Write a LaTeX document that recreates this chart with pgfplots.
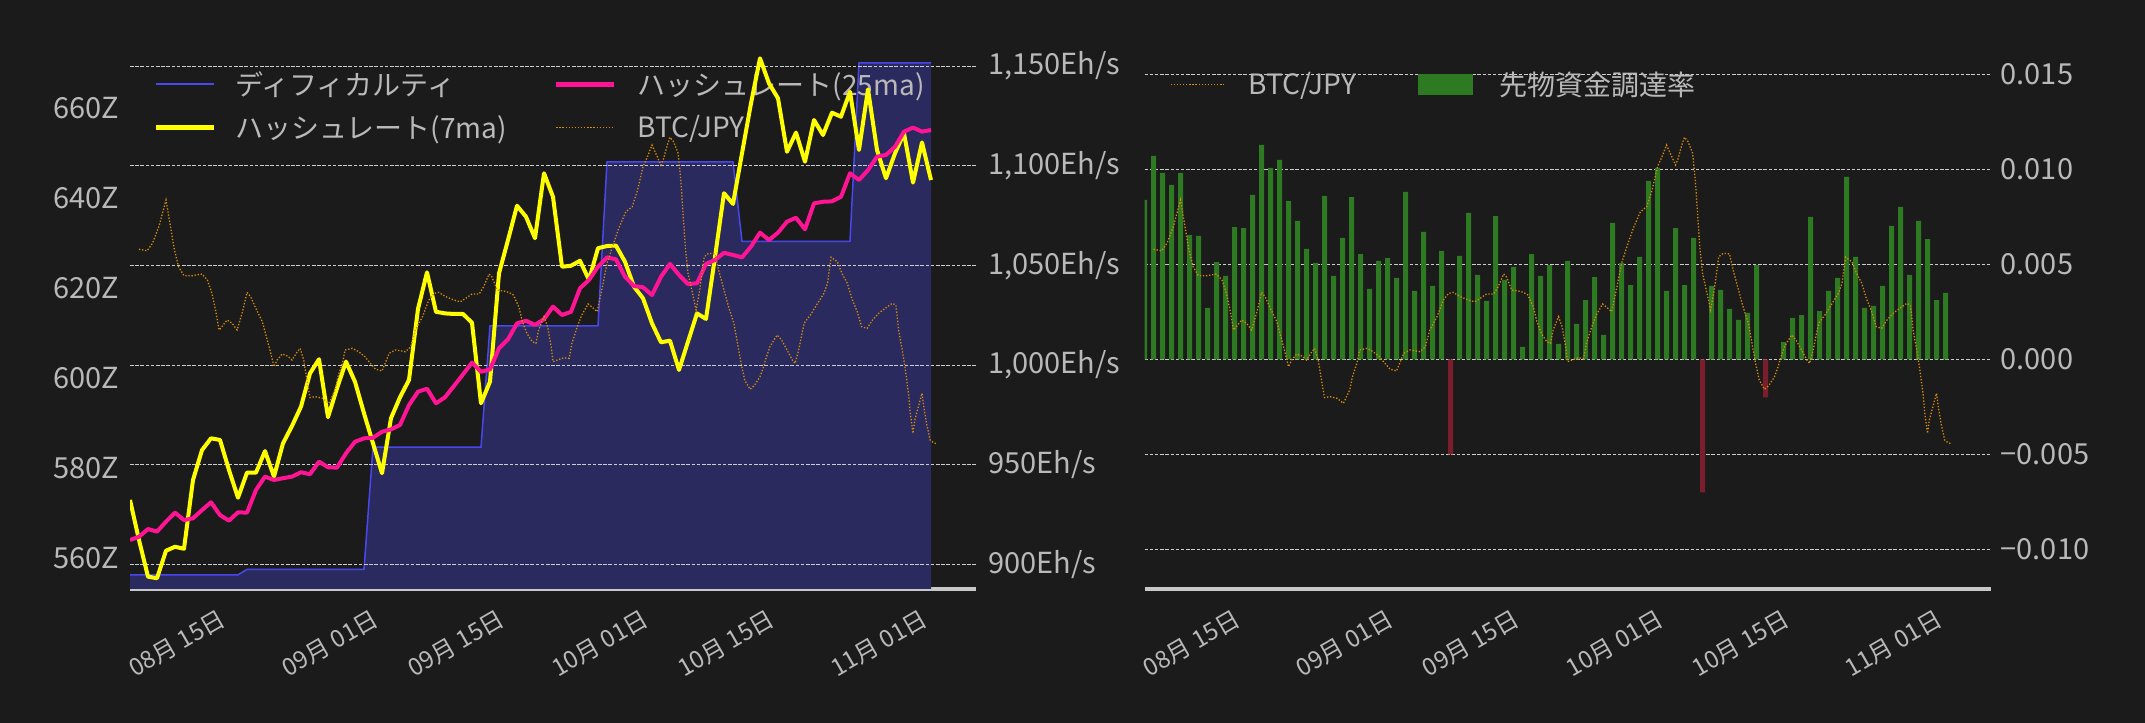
\documentclass[border=0pt]{standalone}
\usepackage{fontspec}
\setmainfont{Noto Sans CJK JP}
\usepackage{pgfplots}
\usepackage{pgfplotstable}
\pgfplotsset{compat=1.18}

\definecolor{bg}{RGB}{27,27,27}
\definecolor{lbl}{RGB}{185,185,185}
\definecolor{gridc}{RGB}{205,205,205}
\definecolor{spine}{RGB}{200,200,200}
\definecolor{diffline}{RGB}{72,72,238}
\definecolor{difffill}{RGB}{42,42,94}
\definecolor{hashy}{RGB}{255,255,0}
\definecolor{hashm}{RGB}{255,20,147}
\definecolor{btc}{RGB}{215,140,10}
\definecolor{fundg}{RGB}{46,122,34}
\definecolor{fundr}{RGB}{122,30,45}

\newcommand{\ytickfont}{\fontsize{29bp}{34bp}\selectfont}
\newcommand{\xtickfont}{\fontsize{24bp}{28bp}\selectfont}
\newcommand{\legfont}{\fontsize{28bp}{33bp}\selectfont}

% difficulty (Z)
\pgfplotstableread{
d v
0 556.2
12 556.2
13 557.4
26 557.4
27 584.6
39 584.6
40 611.6
52 611.6
53 648.1
67 648.1
68 630.4
80 630.4
81 670.1
89 670.1
}\diffdata

% hashrate 7ma (Eh/s)
\pgfplotstableread{
d v
0 932.3
1 912.2
2 893.8
3 893.0
4 906.8
5 908.8
6 907.8
7 942.3
8 957.3
9 963.2
10 962.4
11 947.3
12 933.4
13 946.0
14 946.0
15 956.8
16 944.0
17 960.7
18 969.4
19 979.1
20 995.8
21 1002.9
22 973.8
23 988.3
24 1001.7
25 991.6
26 975.8
27 960.7
28 945.7
29 973.3
30 983.8
31 992.5
32 1028.1
33 1046.5
34 1026.7
35 1025.9
36 1025.6
37 1025.6
38 1021.2
39 980.8
40 991.6
41 1046.0
42 1062.7
43 1079.9
44 1074.4
45 1063.6
46 1096.2
47 1084.4
48 1049.3
49 1049.8
50 1052.3
51 1042.7
52 1058.6
53 1059.7
54 1059.9
55 1051.8
56 1039.3
57 1033.5
58 1020.9
59 1011.4
60 1012.2
61 997.5
62 1011.7
63 1025.9
64 1023.1
65 1054.2
66 1086.2
67 1080.8
68 1106.2
69 1131.3
70 1153.9
71 1141.3
72 1133.8
73 1107.0
74 1116.6
75 1102.0
76 1122.9
77 1115.4
78 1126.6
79 1124.6
80 1137.1
81 1107.9
82 1138.3
83 1107.9
84 1093.7
85 1106.2
86 1116.3
87 1091.5
88 1111.7
89 1092.8
}\hashseven

% hashrate 25ma (Eh/s)
\pgfplotstableread{
d v
0 912.2
1 913.8
2 917.7
3 916.4
4 921.4
5 925.9
6 922.2
7 923.1
8 927.2
9 931.1
10 924.7
11 921.9
12 926.1
13 925.9
14 937.3
15 944.0
16 942.3
17 943.2
18 944.0
19 946.2
20 945.2
21 951.5
22 948.7
23 948.5
24 955.7
25 961.5
26 963.2
27 963.5
28 966.5
29 967.7
30 969.9
31 979.9
32 986.6
33 988.1
34 980.8
35 983.8
36 989.5
37 995.3
38 1001.2
39 996.6
40 997.8
41 1008.4
42 1012.9
43 1020.9
44 1022.2
45 1020.1
46 1023.0
47 1029.3
48 1025.1
49 1026.7
50 1038.5
51 1042.7
52 1049.3
53 1054.0
54 1053.0
55 1044.3
56 1039.6
57 1039.0
58 1035.1
59 1044.3
60 1050.7
61 1045.2
62 1040.6
63 1041.0
64 1050.7
65 1052.7
66 1056.3
67 1055.2
68 1054.0
69 1059.4
70 1066.4
71 1062.7
72 1066.4
73 1071.9
74 1073.9
75 1068.1
76 1081.1
77 1081.9
78 1082.1
79 1084.4
80 1096.2
81 1092.8
82 1097.8
83 1104.5
84 1105.4
85 1109.5
86 1117.1
87 1119.1
88 1117.1
89 1117.9
}\hashtwentyfive

% BTC/JPY (10k JPY)
\pgfplotstableread{
d v
1.0 1788.2
1.9 1786.8
2.5 1793.8
3.2 1809.3
4.0 1834.4
4.5 1809.3
4.9 1789.1
5.4 1771.8
6.0 1763.4
6.9 1763.4
8.0 1765.0
8.6 1759.4
9.1 1746.9
9.5 1731.3
9.9 1712.5
10.2 1715.6
10.8 1721.9
11.35 1718.8
11.9 1712.5
12.5 1729.7
13.0 1747.8
13.4 1743.7
13.9 1734.3
14.7 1720.3
15.2 1704.7
15.6 1692.2
16.0 1678.1
16.35 1684.4
16.9 1690.0
17.5 1688.1
18.0 1684.4
18.6 1692.2
18.9 1695.3
19.3 1684.4
19.6 1668.7
20.0 1649.2
20.6 1650.0
21.4 1648.5
22.1 1643.8
22.8 1656.3
23.1 1668.7
23.6 1681.3
23.9 1693.8
24.7 1695.3
25.4 1692.2
26.1 1687.5
26.7 1681.3
27.3 1675.7
28.0 1674.1
28.8 1690.7
29.5 1693.8
30.6 1692.2
31.2 1696.8
31.7 1712.5
32.5 1725.0
33.2 1740.6
33.8 1746.9
34.3 1747.8
35.1 1743.7
36.0 1740.6
36.7 1739.0
37.3 1742.2
38.0 1746.3
38.8 1746.3
39.3 1753.1
39.9 1765.0
40.2 1762.5
40.8 1750.0
41.5 1749.1
42.1 1747.8
42.6 1745.3
43.2 1734.3
43.6 1720.3
44.1 1709.4
44.7 1701.5
45.1 1700.0
45.4 1712.5
46.0 1725.0
46.4 1715.6
46.8 1696.8
47.0 1682.8
47.5 1684.4
48.2 1686.5
48.8 1686.0
49.1 1700.0
49.7 1715.6
50.2 1726.6
50.9 1736.9
51.5 1732.8
51.9 1729.7
52.5 1753.1
53.0 1775.0
53.6 1790.6
54.3 1807.8
55.1 1823.4
55.8 1828.1
56.4 1843.8
57.0 1865.6
57.5 1875.0
58.0 1885.9
58.5 1876.6
59.0 1867.2
59.3 1873.5
59.7 1885.9
60.0 1893.2
60.4 1889.0
60.9 1878.2
61.2 1853.1
61.5 1815.6
61.7 1790.6
62.0 1765.7
62.5 1746.9
62.9 1731.3
63.3 1750.0
63.8 1781.2
64.3 1784.4
65.0 1783.8
65.4 1768.8
66.0 1750.0
66.5 1734.3
67.1 1718.8
67.5 1700.0
67.9 1681.3
68.3 1665.6
68.9 1656.9
69.4 1660.9
70.0 1668.7
70.4 1678.1
70.6 1684.4
71.1 1696.8
71.9 1707.8
72.4 1703.1
73.0 1693.8
73.6 1684.4
73.9 1681.3
74.3 1693.8
74.9 1718.8
75.6 1726.6
76.4 1737.5
77.1 1746.9
77.5 1756.3
77.9 1780.7
78.6 1776.5
79.1 1765.7
79.7 1756.3
80.2 1742.2
80.8 1729.7
81.3 1715.6
81.9 1714.1
82.5 1721.9
83.2 1728.2
83.9 1732.8
84.7 1737.5
85.1 1735.9
85.4 1712.5
85.8 1693.8
86.1 1678.1
86.5 1653.2
86.7 1634.4
87.0 1615.7
87.2 1628.1
87.6 1640.6
88.0 1653.2
88.2 1640.6
88.5 1625.0
88.9 1609.4
89.3 1606.8
89.7 1605.6
}\btcdata

% funding rate, positive days
\pgfplotstableread{
d v
0 0.00839
1 0.01070
2 0.00981
3 0.00918
4 0.00981
5 0.00654
6 0.00649
7 0.00270
8 0.00512
9 0.00439
10 0.00696
11 0.00691
12 0.00865
13 0.01128
14 0.01007
15 0.01049
16 0.00833
17 0.00728
18 0.00581
19 0.00507
20 0.00860
21 0.00439
22 0.00639
23 0.00854
24 0.00554
25 0.00370
26 0.00518
27 0.00533
28 0.00428
29 0.00881
30 0.00360
31 0.00670
32 0.00386
33 0.00570
35 0.00544
36 0.00770
37 0.00444
38 0.00307
39 0.00754
40 0.00418
41 0.00486
42 0.00065
43 0.00554
44 0.00439
45 0.00496
46 0.00081
47 0.00518
48 0.00186
49 0.00312
50 0.00433
51 0.00128
52 0.00718
53 0.00507
54 0.00391
55 0.00539
56 0.00939
57 0.01007
58 0.00360
59 0.00691
60 0.00391
61 0.00639
63 0.00386
64 0.00365
65 0.00265
66 0.00207
67 0.00244
68 0.00496
71 0.00091
72 0.00218
73 0.00233
74 0.00749
75 0.00254
76 0.00360
77 0.00428
78 0.00960
79 0.00539
80 0.00270
81 0.00281
82 0.00386
83 0.00702
84 0.00802
85 0.00444
86 0.00728
87 0.00633
88 0.00312
89 0.00349
}\fundpos

% funding rate, negative days
\pgfplotstableread{
d v
34 -0.00500
62 -0.00700
69 -0.00200
}\fundneg

\pgfplotsset{
  base/.style={
    scale only axis, width=846bp, height=541bp,
    xmin=0, xmax=94,
    major tick length=0pt, tick style={draw=none},
    axis line style={draw=none},
  },
  datex/.style={
    axis x line*=bottom,
    x axis line style={draw=spine, line width=3bp, -},
    xtick={11,28,42,58,72,89},
    xticklabels={08月 15日,09月 01日,09月 15日,10月 01日,10月 15日,11月 01日},
    xticklabel style={font=\xtickfont, text=lbl, inner sep=0pt, yshift=-37bp, rotate=30, anchor=south east},
  },
  mygrid/.style={
    ymajorgrids,
    grid style={draw=gridc, line width=1bp, dash pattern=on 3.5bp off 1.7bp},
  },
}

\begin{document}
\begin{tikzpicture}
\path[use as bounding box] (0,0) rectangle (2145bp,723bp);
\fill[bg] (0,0) rectangle (2145bp,723bp);

% ---------------- LEFT CHART ----------------
\begin{axis}[base, datex, at={(130bp,134bp)}, anchor=south west,
  ymin=553.04, ymax=673.42,
  axis y line*=left, y axis line style={draw=none},
  ytick={560,580,600,620,640,660},
  yticklabels={560Z,580Z,600Z,620Z,640Z,660Z},
  yticklabel style={font=\ytickfont, text=lbl, anchor=east, inner sep=0pt, xshift=-11bp},
  legend columns=2,
  legend cell align=left,
  legend style={at={(axis description cs:0.02837,0.9560)}, anchor=north west,
    draw=none, fill=none, text=lbl, font=\legfont, inner sep=0pt, outer sep=0pt,
    row sep=18bp, nodes={inner sep=0pt},
    /tikz/every even column/.append style={column sep=47bp}},
]
\addplot[forget plot, fill=difffill, draw=none] table[x=d,y=v] {\diffdata} \closedcycle;
\addplot[forget plot, diffline, line width=1.5bp] table[x=d,y=v] {\diffdata};
\addlegendimage{legend image code/.code={\draw[diffline, line width=2bp] (0bp,0bp) -- (58bp,0bp); \path (79bp,0bp);}}
\addlegendentry{ディフィカルティ}
\addlegendimage{legend image code/.code={\draw[hashm, line width=4.5bp] (0bp,0bp) -- (58bp,0bp); \path (81bp,0bp);}}
\addlegendentry{ハッシュレート(25ma)}
\addlegendimage{legend image code/.code={\draw[hashy, line width=4.5bp] (0bp,0bp) -- (58bp,0bp); \path (79bp,0bp);}}
\addlegendentry{ハッシュレート(7ma)}
\addlegendimage{legend image code/.code={\draw[btc, line width=1.3bp, dash pattern=on 1.3bp off 1.8bp] (0bp,0bp) -- (58bp,0bp); \path (81bp,0bp);}}
\addlegendentry{BTC/JPY}
\end{axis}

\begin{axis}[base, mygrid, at={(130bp,134bp)}, anchor=south west,
  ymin=887.61, ymax=1159.06,
  hide x axis,
  axis y line*=right, y axis line style={draw=none},
  ytick={900,950,1000,1050,1100,1150},
  yticklabels={900Eh/s,950Eh/s,{1,000Eh/s},{1,050Eh/s},{1,100Eh/s},{1,150Eh/s}},
  yticklabel style={font=\ytickfont, text=lbl, anchor=west, inner sep=0pt, xshift=12bp},
]
\addplot[hashy, line width=4bp, line join=round] table[x=d,y=v] {\hashseven};
\addplot[hashm, line width=4bp, line join=round] table[x=d,y=v] {\hashtwentyfive};
\end{axis}

\begin{axis}[base, at={(130bp,134bp)}, anchor=south west, hide axis,
  ymin=1469.7, ymax=1976.9]
\addplot[btc, line width=1.3bp, dash pattern=on 1.3bp off 1.8bp] table[x=d,y=v] {\btcdata};
\end{axis}

% ---------------- RIGHT CHART ----------------
\begin{axis}[base, datex, mygrid, at={(1144.5bp,134bp)}, anchor=south west,
  ymin=-0.012089, ymax=0.016384,
  scaled y ticks=false,
  axis y line*=right, y axis line style={draw=none},
  ytick={-0.01,-0.005,0,0.005,0.01,0.015},
  yticklabels={−0.010,−0.005,0.000,0.005,0.010,0.015},
  yticklabel style={font=\ytickfont, text=lbl, anchor=west, inner sep=0pt, xshift=10bp},
  legend columns=2,
  legend cell align=left,
  legend style={at={(axis description cs:0.0301,0.9556)}, anchor=north west,
    draw=none, fill=none, text=lbl, font=\legfont, inner sep=0pt, outer sep=0pt,
    nodes={inner sep=0pt},
    /tikz/every even column/.append style={column sep=62bp}},
]
\addplot[forget plot, ybar, bar width=5bp, bar shift=0pt, fill=fundg, draw=none] table[x=d,y=v] {\fundpos};
\addplot[forget plot, ybar, bar width=5bp, bar shift=0pt, fill=fundr, draw=none] table[x=d,y=v] {\fundneg};
\addlegendimage{legend image code/.code={\draw[btc, line width=1.3bp, dash pattern=on 1.3bp off 1.8bp] (0bp,0bp) -- (53bp,0bp); \path (78bp,0bp);}}
\addlegendentry{BTC/JPY}
\addlegendimage{legend image code/.code={\fill[fundg] (0bp,-10bp) rectangle (54bp,10bp); \path (81bp,0bp);}}
\addlegendentry{先物資金調達率}
\end{axis}

\begin{axis}[base, at={(1144.5bp,134bp)}, anchor=south west, hide axis,
  ymin=1469.7, ymax=1976.9]
\addplot[btc, line width=1.3bp, dash pattern=on 1.3bp off 1.8bp] table[x=d,y=v] {\btcdata};
\end{axis}

\end{tikzpicture}
\end{document}
